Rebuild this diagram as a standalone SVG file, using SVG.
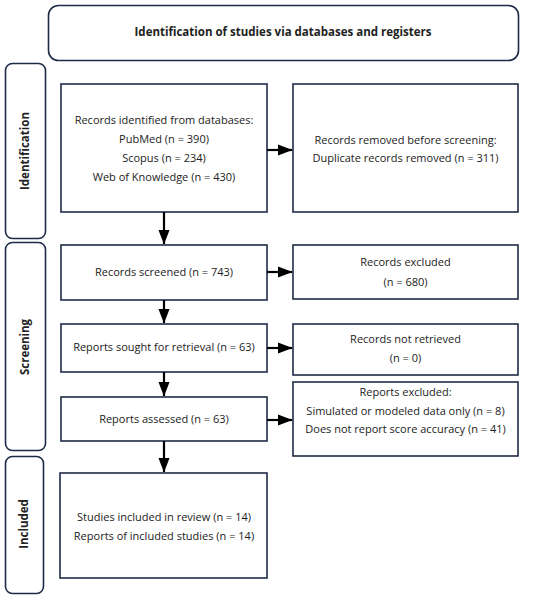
<svg xmlns="http://www.w3.org/2000/svg" width="550" height="597" viewBox="0 0 550 597">
<style>
.box{fill:#fff;stroke:#1e2b48;stroke-width:1.6}
.side{fill:#fff;stroke:#1e2b48;stroke-width:1.6}
text{font-family:"Open Sans","Liberation Sans",sans-serif;font-size:11px;fill:#222;text-anchor:middle;dominant-baseline:middle}
.b{font-weight:bold;font-size:11.5px}
.conn{stroke:#000;stroke-width:2.2;fill:none;marker-end:url(#ah)}
</style>
<defs>
<marker id="ah" markerWidth="15" markerHeight="12" refX="14" refY="6" orient="auto" markerUnits="userSpaceOnUse">
<path d="M0,0.5 L14.5,6 L0,11.5 Z" fill="#000"/>
</marker>
</defs>
<rect width="550" height="597" fill="#fff"/>
<g id="title"><rect class="box" x="48.5" y="5.5" width="470" height="55" rx="10"/><text class="b" x="283" y="33">Identification of studies via databases and registers</text></g>
<g id="lane-identification"><rect class="side" x="5.5" y="63.5" width="40" height="175" rx="7"/><text class="b" transform="translate(26,151) rotate(-90)">Identification</text></g>
<g id="lane-screening"><rect class="side" x="5.5" y="242.5" width="40" height="208" rx="7"/><text class="b" transform="translate(26,347) rotate(-90)">Screening</text></g>
<g id="lane-included"><rect class="side" x="5.5" y="456.5" width="38" height="137" rx="7"/><text class="b" transform="translate(25,524) rotate(-90)">Included</text></g>
<g id="identified"><rect class="box" x="61" y="84" width="206" height="128"/>
<text x="164" y="121">Records identified from databases:</text><text x="164" y="140">PubMed (n = 390)</text><text x="164" y="159">Scopus (n = 234)</text><text x="164" y="178">Web of Knowledge (n = 430)</text></g>
<g id="removed"><rect class="box" x="293" y="84" width="225" height="128"/>
<text x="405.5" y="141">Records removed before screening:</text><text x="405.5" y="159">Duplicate records removed (n = 311)</text></g>
<g id="screened"><rect class="box" x="61" y="245" width="206" height="55"/><text x="164" y="273">Records screened (n = 743)</text></g>
<g id="excluded"><rect class="box" x="293" y="245" width="225" height="54"/><text x="405.5" y="263">Records excluded</text><text x="405.5" y="283">(n = 680)</text></g>
<g id="sought"><rect class="box" x="61" y="324" width="206" height="48"/><text x="164" y="348">Reports sought for retrieval (n = 63)</text></g>
<g id="notretrieved"><rect class="box" x="293" y="324" width="225" height="51"/><text x="405.5" y="340">Records not retrieved</text><text x="405.5" y="359">(n = 0)</text></g>
<g id="assessed"><rect class="box" x="61" y="397" width="206" height="44"/><text x="164" y="420">Reports assessed (n = 63)</text></g>
<g id="reportsexcluded"><rect class="box" x="293" y="382" width="225" height="74"/><text x="405.5" y="393">Reports excluded:</text><text x="405.5" y="412">Simulated or modeled data only (n = 8)</text><text x="405.5" y="430">Does not report score accuracy (n = 41)</text></g>
<g id="included"><rect class="box" x="60" y="473" width="207" height="105"/><text x="164" y="518">Studies included in review (n = 14)</text><text x="164" y="537">Reports of included studies (n = 14)</text></g>
<g id="connectors">
<line class="conn" x1="267" y1="150" x2="292" y2="150"/>
<line class="conn" x1="164" y1="212" x2="164" y2="244"/>
<line class="conn" x1="267" y1="272" x2="292" y2="272"/>
<line class="conn" x1="164" y1="300" x2="164" y2="323"/>
<line class="conn" x1="267" y1="348" x2="292" y2="348"/>
<line class="conn" x1="164" y1="372" x2="164" y2="396"/>
<line class="conn" x1="267" y1="420" x2="292" y2="420"/>
<line class="conn" x1="164" y1="441" x2="164" y2="472"/>
</g>
</svg>
